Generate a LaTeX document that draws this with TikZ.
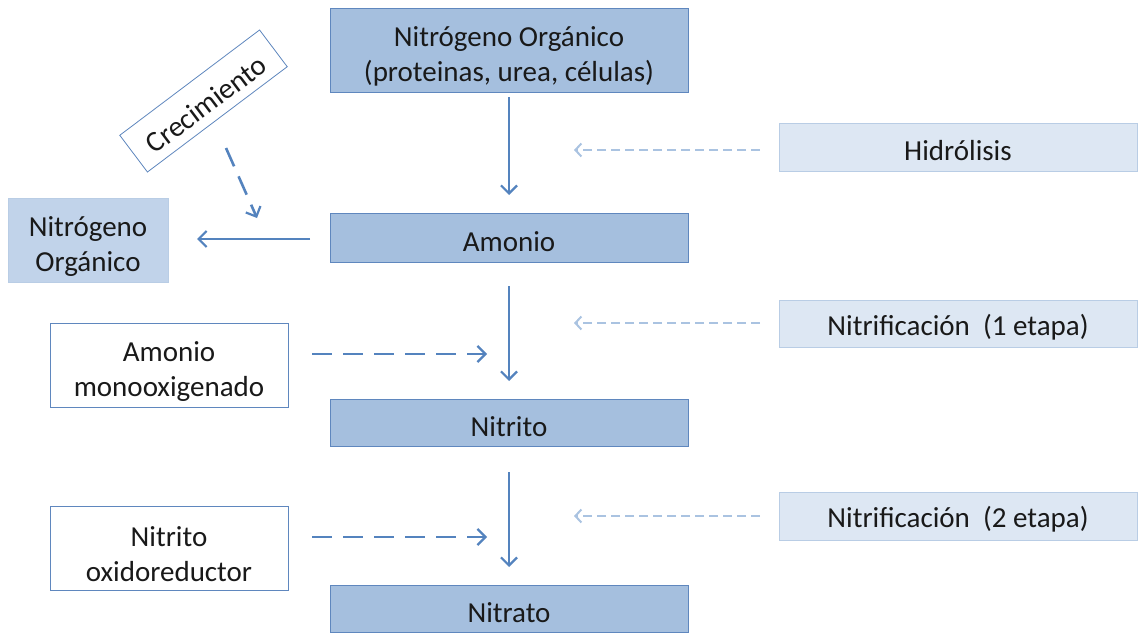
\documentclass[tikz,border=0pt]{standalone}
\usepackage{fontspec}
\setmainfont{Carlito}
\usetikzlibrary{arrows.meta}
\definecolor{dkfill}{RGB}{165,191,222}
\definecolor{dkline}{RGB}{95,135,190}
\definecolor{ltfill}{RGB}{221,231,243}
\definecolor{ltline}{RGB}{185,205,229}
\definecolor{midfill}{RGB}{193,211,234}
\definecolor{arrowc}{RGB}{84,131,190}
\definecolor{ltarrow}{RGB}{170,195,225}
\definecolor{txt}{RGB}{25,25,25}
\tikzset{
  base/.style={rectangle, inner sep=0pt, align=center, text=txt, font=\fontsize{29}{35}\selectfont, line width=0.8pt},
  % struts that set the text a little below the middle of its box
  oneline/.style={execute at begin node={\rule{0pt}{28pt}}},
  twoline/.style={execute at begin node={\rule{0pt}{68pt}}},
  mainbox/.style={base, fill=dkfill, draw=dkline, minimum width=358pt},
  sidebox/.style={base, oneline, fill=ltfill, draw=ltline, minimum width=358pt, minimum height=48pt},
  leftbox/.style={base, twoline, fill=white, draw=dkline, minimum width=238pt, minimum height=84pt},
  flow/.style={draw=arrowc, line width=2.6pt, -{Straight Barb[length=8pt,width=16pt,line width=2.2pt]}},
  enzyme/.style={flow, dash pattern=on 20pt off 11pt},
  process/.style={draw=ltarrow, line width=2.2pt, dash pattern=on 9pt off 5pt, -{Straight Barb[length=6pt,width=13pt,line width=2pt]}}
}
\begin{document}
\begin{tikzpicture}[x=1pt,y=-1pt]
\useasboundingbox (0,0) rectangle (1139,634);
% main chain
\node[mainbox, twoline, minimum height=84pt] (org) at (509,50) {Nitrógeno Orgánico\\(proteinas, urea, células)};
\node[mainbox, oneline, minimum height=49pt] (amo) at (509,237.5) {Amonio};
\node[mainbox, oneline, minimum height=47pt] (nit) at (509,422.5) {Nitrito};
\node[mainbox, oneline, minimum height=47pt] (nat) at (509,608.5) {Nitrato};
% processes on the right
\node[sidebox] (hid) at (958,147) {Hidrólisis};
\node[sidebox, minimum height=47pt] (ni1) at (958,323.5) {Nitrificación\ \ (1 etapa)};
\node[sidebox] (ni2) at (958,516) {Nitrificación\ \ (2 etapa)};
% left side
\node[base, twoline, fill=midfill, draw=ltline, minimum width=160pt, minimum height=84pt] (norg) at (88,240) {Nitrógeno\\Orgánico};
\node[leftbox] (amm) at (169,365) {Amonio\\monooxigenado};
\node[leftbox] (nox) at (169,548) {Nitrito\\oxidoreductor};
\node[base, oneline, fill=white, draw=dkline, minimum width=175pt, minimum height=46pt, rotate=37] (cre) at (203.5,101) {Crecimiento};
% flow coordinates
\coordinate (a1) at (509,97);  \coordinate (a2) at (509,195);
\coordinate (b1) at (509,286); \coordinate (b2) at (509,381);
\coordinate (c1) at (509,472); \coordinate (c2) at (509,567);
\coordinate (l1) at (310,239); \coordinate (l2) at (197,239);
\coordinate (g1) at (226,148); \coordinate (g2) at (257,218);
\coordinate (m1) at (312,354); \coordinate (m2) at (487,354);
\coordinate (n1) at (312,537); \coordinate (n2) at (487,537);
\coordinate (h1) at (760,150); \coordinate (h2) at (574,150);
\coordinate (p1) at (760,323); \coordinate (p2) at (574,323);
\coordinate (q1) at (760,516); \coordinate (q2) at (574,516);
% solid flow arrows
\draw[flow] (a1) -- (a2);
\draw[flow] (b1) -- (b2);
\draw[flow] (c1) -- (c2);
\draw[flow] (l1) -- (l2);
% enzyme arrows
\draw[enzyme] (g1) -- (g2);
\draw[enzyme] (m1) -- (m2);
\draw[enzyme] (n1) -- (n2);
% process arrows
\draw[process] (h1) -- (h2);
\draw[process] (p1) -- (p2);
\draw[process] (q1) -- (q2);
\end{tikzpicture}
\end{document}
